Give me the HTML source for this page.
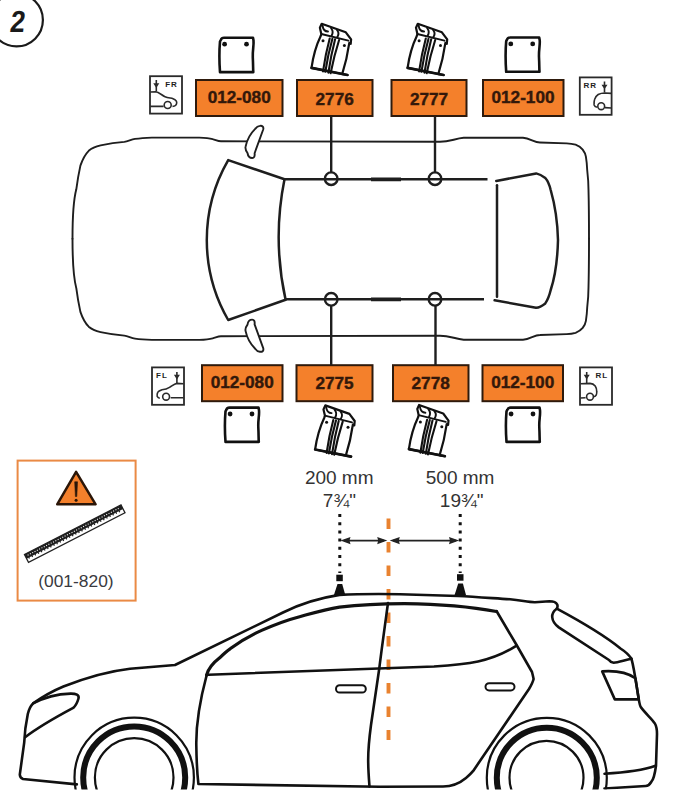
<!DOCTYPE html>
<html><head><meta charset="utf-8">
<style>
html,body{margin:0;padding:0;background:#fff;width:674px;height:800px;overflow:hidden}
svg{display:block}
text{font-family:"Liberation Sans",sans-serif}
</style></head>
<body>
<svg width="674" height="800" viewBox="0 0 674 800">


<!-- step circle -->
<circle cx="16.5" cy="20" r="26.4" fill="none" stroke="#1a1a1a" stroke-width="2.2"/>
<text transform="translate(9.2,31.7) skewX(-7) scale(0.87,1)" x="0" y="0" font-size="30.6" font-weight="bold" fill="#1a1a1a">2</text>

<!-- pads top -->
<g transform="translate(219,37.5)">
    <path d="M1.8,2.5 C2.3,1 3.5,0.3 5,0.3 L34,0.3 L34.5,3 C35,8 33.5,12 33.8,20 C34.2,28 34,31 34.3,34.6 L1,34.6 C0.3,25 0.3,12 1,4 Z" fill="#fff" stroke="#111" stroke-width="2.6" stroke-linejoin="round"/>
    <circle cx="5.6" cy="6.7" r="2.4" fill="#111"/>
    <circle cx="27.5" cy="6.7" r="2.4" fill="#111"/>
</g>
<g transform="translate(505.2,37.2)">
    <path d="M1.8,2.5 C2.3,1 3.5,0.3 5,0.3 L34,0.3 L34.5,3 C35,8 33.5,12 33.8,20 C34.2,28 34,31 34.3,34.6 L1,34.6 C0.3,25 0.3,12 1,4 Z" fill="#fff" stroke="#111" stroke-width="2.6" stroke-linejoin="round"/>
    <circle cx="5.6" cy="6.7" r="2.4" fill="#111"/>
    <circle cx="27.5" cy="6.7" r="2.4" fill="#111"/>
</g>
<!-- pads bottom -->
<g transform="translate(224.5,407.3)">
    <path d="M1.8,2.5 C2.3,1 3.5,0.3 5,0.3 L34,0.3 L34.5,3 C35,8 33.5,12 33.8,20 C34.2,28 34,31 34.3,34.6 L1,34.6 C0.3,25 0.3,12 1,4 Z" fill="#fff" stroke="#111" stroke-width="2.6" stroke-linejoin="round"/>
    <circle cx="5.6" cy="6.7" r="2.4" fill="#111"/>
    <circle cx="27.5" cy="6.7" r="2.4" fill="#111"/>
</g>
<g transform="translate(505.5,407.3)">
    <path d="M1.8,2.5 C2.3,1 3.5,0.3 5,0.3 L34,0.3 L34.5,3 C35,8 33.5,12 33.8,20 C34.2,28 34,31 34.3,34.6 L1,34.6 C0.3,25 0.3,12 1,4 Z" fill="#fff" stroke="#111" stroke-width="2.6" stroke-linejoin="round"/>
    <circle cx="5.6" cy="6.7" r="2.4" fill="#111"/>
    <circle cx="27.5" cy="6.7" r="2.4" fill="#111"/>
</g>

<!-- clips -->
<g transform="translate(300,15)" stroke="#111" stroke-linejoin="round" stroke-linecap="round" fill="none">
    <path d="M21.7,8.8 L45.8,17.3 L51.1,24.4 L50.7,28.8 L49.3,27.9 Q47,44 42.2,59.1 L47.5,60 L11.5,52.9 Q14,35 20.8,20.8 L21.3,19 L19.9,12.8 Z" fill="#fff" stroke-width="2.2"/>
    <path d="M21.3,19 L48.4,25.7" stroke-width="1.9"/>
    <path d="M22.5,10.5 C23,14 25,16.5 28,16.5 M31,13 C33,15.5 33,18.5 31.5,21 M37,15 C39,17.5 38.5,20.5 37,22.5" stroke-width="1.9"/>
    <path d="M29.7,23.5 Q25.5,39 23,56.4 M32.4,23.8 Q28,39.5 25.3,56.8 M35.1,24.3 Q31,40 28.4,57.6 M39.1,25 Q34,41 30.6,58.2" stroke-width="2.1"/>
    <path d="M11.5,52.9 L47.5,60" stroke-width="2.6"/>
    <circle cx="23" cy="25.7" r="1.5" fill="#111" stroke="none"/>
    <circle cx="44.4" cy="30.6" r="1.5" fill="#111" stroke="none"/>
</g>
<g transform="translate(396.1,15)" stroke="#111" stroke-linejoin="round" stroke-linecap="round" fill="none">
    <path d="M21.7,8.8 L45.8,17.3 L51.1,24.4 L50.7,28.8 L49.3,27.9 Q47,44 42.2,59.1 L47.5,60 L11.5,52.9 Q14,35 20.8,20.8 L21.3,19 L19.9,12.8 Z" fill="#fff" stroke-width="2.2"/>
    <path d="M21.3,19 L48.4,25.7" stroke-width="1.9"/>
    <path d="M22.5,10.5 C23,14 25,16.5 28,16.5 M31,13 C33,15.5 33,18.5 31.5,21 M37,15 C39,17.5 38.5,20.5 37,22.5" stroke-width="1.9"/>
    <path d="M29.7,23.5 Q25.5,39 23,56.4 M32.4,23.8 Q28,39.5 25.3,56.8 M35.1,24.3 Q31,40 28.4,57.6 M39.1,25 Q34,41 30.6,58.2" stroke-width="2.1"/>
    <path d="M11.5,52.9 L47.5,60" stroke-width="2.6"/>
    <circle cx="23" cy="25.7" r="1.5" fill="#111" stroke="none"/>
    <circle cx="44.4" cy="30.6" r="1.5" fill="#111" stroke="none"/>
</g>
<g transform="translate(303.6,396.6)" stroke="#111" stroke-linejoin="round" stroke-linecap="round" fill="none">
    <path d="M21.7,8.8 L45.8,17.3 L51.1,24.4 L50.7,28.8 L49.3,27.9 Q47,44 42.2,59.1 L47.5,60 L11.5,52.9 Q14,35 20.8,20.8 L21.3,19 L19.9,12.8 Z" fill="#fff" stroke-width="2.2"/>
    <path d="M21.3,19 L48.4,25.7" stroke-width="1.9"/>
    <path d="M22.5,10.5 C23,14 25,16.5 28,16.5 M31,13 C33,15.5 33,18.5 31.5,21 M37,15 C39,17.5 38.5,20.5 37,22.5" stroke-width="1.9"/>
    <path d="M29.7,23.5 Q25.5,39 23,56.4 M32.4,23.8 Q28,39.5 25.3,56.8 M35.1,24.3 Q31,40 28.4,57.6 M39.1,25 Q34,41 30.6,58.2" stroke-width="2.1"/>
    <path d="M11.5,52.9 L47.5,60" stroke-width="2.6"/>
    <circle cx="23" cy="25.7" r="1.5" fill="#111" stroke="none"/>
    <circle cx="44.4" cy="30.6" r="1.5" fill="#111" stroke="none"/>
</g>
<g transform="translate(397.4,396.2)" stroke="#111" stroke-linejoin="round" stroke-linecap="round" fill="none">
    <path d="M21.7,8.8 L45.8,17.3 L51.1,24.4 L50.7,28.8 L49.3,27.9 Q47,44 42.2,59.1 L47.5,60 L11.5,52.9 Q14,35 20.8,20.8 L21.3,19 L19.9,12.8 Z" fill="#fff" stroke-width="2.2"/>
    <path d="M21.3,19 L48.4,25.7" stroke-width="1.9"/>
    <path d="M22.5,10.5 C23,14 25,16.5 28,16.5 M31,13 C33,15.5 33,18.5 31.5,21 M37,15 C39,17.5 38.5,20.5 37,22.5" stroke-width="1.9"/>
    <path d="M29.7,23.5 Q25.5,39 23,56.4 M32.4,23.8 Q28,39.5 25.3,56.8 M35.1,24.3 Q31,40 28.4,57.6 M39.1,25 Q34,41 30.6,58.2" stroke-width="2.1"/>
    <path d="M11.5,52.9 L47.5,60" stroke-width="2.6"/>
    <circle cx="23" cy="25.7" r="1.5" fill="#111" stroke="none"/>
    <circle cx="44.4" cy="30.6" r="1.5" fill="#111" stroke="none"/>
</g>

<!-- orange boxes -->
<g fill="#f4802b" stroke="#2e1a0c" stroke-width="2">
  <rect x="196" y="80" width="86.5" height="36"/>
  <rect x="297" y="80" width="75.5" height="36"/>
  <rect x="391.5" y="80" width="75" height="36"/>
  <rect x="483" y="80" width="80.5" height="36"/>
  <rect x="202" y="365.2" width="80.5" height="36"/>
  <rect x="296.5" y="365.2" width="76" height="36"/>
  <rect x="393" y="365.2" width="75.5" height="36"/>
  <rect x="482.5" y="365.2" width="80.5" height="36"/>
</g>
<g font-size="17.2" font-weight="bold" fill="#33180a" stroke="#33180a" stroke-width="0.4" text-anchor="middle">
  <text x="239.2" y="103.4">012-080</text>
  <text x="334.7" y="104.5">2776</text>
  <text x="429" y="104.5">2777</text>
  <text x="523" y="103.2">012-100</text>
  <text x="242.2" y="388.2">012-080</text>
  <text x="334.5" y="388.5">2775</text>
  <text x="430.7" y="388.5">2778</text>
  <text x="522.7" y="388.2">012-100</text>
</g>

<!-- position icons -->
<g fill="#fff" stroke="#2a2a2a" stroke-width="1.8">
  <rect x="150" y="76.2" width="32" height="37.4"/>
  <rect x="579.8" y="77.4" width="31.8" height="37.4"/>
  <rect x="152" y="367.4" width="32" height="37.4"/>
  <rect x="580" y="367.4" width="32" height="37.4"/>
</g>
<g fill="none" stroke="#2a2a2a" stroke-width="1.6" stroke-linejoin="round">
  <!-- FR -->
  <path d="M150.3,92 L155.7,91.7 C159,92 162,95.5 165,96.7 C168,98 171,98 173,98.7 C176,100 177,101 176.7,103 C176.5,105 175.5,106.2 172.5,106.4 M150.3,106.4 L163.6,106.4"/>
  <circle cx="167.7" cy="105" r="3.5"/>
  <path d="M156.3,80 L156.3,91.5"/>
  <!-- RR -->
  <path d="M611.2,93.4 L604.9,93 C602,93 600,93.5 598.2,94.5 C596,96 594.8,98 594.5,99.7 C594,101.5 594,103 594.1,104.9 C594.5,106 595.5,107 597.4,107.3 M604.9,107.6 L611.2,108"/>
  <circle cx="601.2" cy="106.2" r="3.4"/>
  <path d="M604.5,81.5 L604.5,92.5"/>
  <!-- FL -->
  <path d="M183.6,383.7 L176.9,383.4 C174,384 172,386 169.5,387.4 C167,389 164.5,389.5 162,389.7 C159.5,390.5 158,391.5 157.6,392.6 C157,394 157,395.5 157.2,396.4 C157.8,397.5 158.5,398 159.8,398.2 M170.6,397.8 L183.6,397.8"/>
  <circle cx="166.1" cy="396.7" r="3.4"/>
  <path d="M176.9,372 L176.9,383"/>
  <!-- RL -->
  <path d="M580.4,383.7 L590,383.4 C592,383.5 594,384.5 595.2,386 C596.2,387.5 596.7,389.5 596.7,391.2 C596.9,393 596.8,394 596.3,394.9 C595.8,396 595,396.5 593.7,396.7 M585.6,397.8 L580.4,398"/>
  <circle cx="590" cy="396.7" r="3.4"/>
  <path d="M586.7,372 L586.7,383"/>
</g>
<g fill="#2a2a2a">
  <path d="M153.3,83.3 L159.3,83.3 L156.3,88 Z"/>
  <path d="M601.5,84.8 L607.5,84.8 L604.5,89.3 Z"/>
  <path d="M173.9,374.8 L179.9,374.8 L176.9,379.5 Z"/>
  <path d="M583.7,374.8 L589.7,374.8 L586.7,379.5 Z"/>
</g>
<g font-size="8" font-weight="bold" fill="#1e1e1e" letter-spacing="1">
  <text x="165.2" y="86.5">FR</text>
  <text x="583.5" y="87.8">RR</text>
  <text x="156" y="377.8">FL</text>
  <text x="595.5" y="377.8">RL</text>
</g>

<!-- ===== TOP VIEW CAR ===== -->
<g fill="none" stroke="#1e1e1e" stroke-width="1.9" stroke-linecap="round" stroke-linejoin="round">
  <path d="M72.5,238.75 C72.5,215 74,198 76.3,189.3 C77.5,180 79,172 80.4,165.6 C83,158 85.5,154 88.7,150.8 C92,148 96,146.5 100.6,145.4 C108,143.8 116,142.5 124.3,141.9 C128,141.5 131,139.5 135,138.9 C138,138.5 142,138 151.9,137.6 L199.3,137.6 C205,137.7 209,138 212.7,139.1 C216,140 218,141.3 221,141.3 L440,141.8 C450,141.8 455,138.5 463.7,137.8 L523,137.8 C530,138 534,142.5 540,142.5 L566.7,143.4 C571,143.6 573,144 575.6,144.7 C579,146 581,147.5 582.7,149.6 C584.5,152 585.5,154 585.9,156.7 C586.6,161 587,165 587.2,170 C588,177 588.5,183 588.5,190 C589,210 589,225 589,238.75"/>
  <path transform="translate(0,477.5) scale(1,-1)" d="M72.5,238.75 C72.5,215 74,198 76.3,189.3 C77.5,180 79,172 80.4,165.6 C83,158 85.5,154 88.7,150.8 C92,148 96,146.5 100.6,145.4 C108,143.8 116,142.5 124.3,141.9 C128,141.5 131,139.5 135,138.9 C138,138.5 142,138 151.9,137.6 L199.3,137.6 C205,137.7 209,138 212.7,139.1 C216,140 218,141.3 221,141.3 L440,141.8 C450,141.8 455,138.5 463.7,137.8 L523,137.8 C530,138 534,142.5 540,142.5 L566.7,143.4 C571,143.6 573,144 575.6,144.7 C579,146 581,147.5 582.7,149.6 C584.5,152 585.5,154 585.9,156.7 C586.6,161 587,165 587.2,170 C588,177 588.5,183 588.5,190 C589,210 589,225 589,238.75"/>
  <path fill="#fff" d="M259.9,125.9 C262,125.5 264,126.5 263.2,129.5 L254.6,153.2 C255,156.5 254,158 252.2,158 C249.5,158 248,156.5 247.5,153 C246,151 245,149 245.6,146.5 C247,140 250,134 255.2,128.9 C256.5,127 258,126 259.9,125.9 Z"/>
  <path transform="translate(0,477.6) scale(1,-1)" fill="#fff" d="M259.9,125.9 C262,125.5 264,126.5 263.2,129.5 L254.6,153.2 C255,156.5 254,158 252.2,158 C249.5,158 248,156.5 247.5,153 C246,151 245,149 245.6,146.5 C247,140 250,134 255.2,128.9 C256.5,127 258,126 259.9,125.9 Z"/>
</g>
<g fill="none" stroke="#1e1e1e" stroke-width="2.5" stroke-linecap="round" stroke-linejoin="round">
  <!-- windshield -->
  <path d="M284.5,179.3 L228.2,160.1 A160,160 0 0 0 228.2,320 L285.6,299.8 A291,291 0 0 1 284.5,179.3 Z"/>
  <!-- rear window -->
  <path d="M496.3,181 L536.2,173.4 C539,174 542,175.5 545.3,178 C548,181 549.5,185 550.7,190 C555,205 557.5,220 558,240 C557.5,260 555,277 550.7,290 C549.5,295 548,299.5 545.3,303.4 C542,306 539,307.5 536,307.8 L494.6,300.3"/>
  <path d="M497,185.3 L497,296.7"/>
</g>
<g fill="none" stroke="#1e1e1e" stroke-width="2.4">
  <path d="M283.7,179.3 L487.5,179.3"/>
  <path d="M285.2,299.3 L484,299.3"/>
  <circle cx="331.2" cy="178.7" r="6.3"/>
  <circle cx="435" cy="178.7" r="6.3"/>
  <circle cx="331.2" cy="299.3" r="6.3"/>
  <circle cx="435" cy="299.3" r="6.3"/>
  <path d="M331.2,116.5 L331.2,172.3 M435,116.5 L435,172.3 M331.2,305.6 L331.2,365 M435.5,305.6 L435.5,365"/>
</g>
<g stroke="#1e1e1e" stroke-width="3.8">
  <path d="M371,179.3 L401,179.3 M371,299.3 L401,299.3"/>
</g>

<!-- ===== WARNING BOX ===== -->
<rect x="17.6" y="460.6" width="118" height="140" fill="none" stroke="#ea8a45" stroke-width="2"/>
<path d="M76.1,471.8 L95.6,504.3 L57.2,504.3 Z" fill="#f4802b" stroke="#2b1608" stroke-width="2.5" stroke-linejoin="round"/>
<path d="M74.7,481.8 L77.5,481.8 L76.8,496.5 L75.4,496.5 Z" fill="#2b1608" stroke="#2b1608" stroke-width="0.6" stroke-linejoin="round"/>
<circle cx="76.1" cy="500.2" r="1.5" fill="#2b1608"/>
<g transform="translate(26.5,558.5) rotate(-27.2)">
  <rect x="0" y="-4.4" width="108.5" height="8.8" fill="#fff" stroke="#222" stroke-width="1.3"/>
  <rect x="0" y="-4.4" width="108.5" height="4.6" fill="#1e1e1e"/>
  <path d="M2.5,-2.4 L106.5,-2.4" stroke="#fff" stroke-width="1.1" stroke-dasharray="1,1.6"/>
  <path d="M2,0.6 L106.5,0.6" stroke="#1e1e1e" stroke-width="1.6" stroke-dasharray="1.2,2.3"/>
</g>
<text x="75.9" y="587" font-size="17.4" fill="#3a3a40" text-anchor="middle">(001-820)</text>

<!-- ===== MEASUREMENTS ===== -->
<g font-size="19" fill="#333" text-anchor="middle">
  <text x="339.2" y="483.6">200 mm</text>
  <text x="339.4" y="507.2">7¾"</text>
  <text x="460.1" y="483.6">500 mm</text>
  <text x="461.7" y="507.2">19¾"</text>
</g>
<g stroke="#111" stroke-width="3" stroke-dasharray="3,5.2">
  <path d="M339.8,514 L339.8,573"/>
  <path d="M460.2,514 L460.2,573"/>
</g>
<g stroke="#222" stroke-width="1.8">
  <path d="M344,540.6 L384,540.6 M393,540.6 L456,540.6"/>
</g>
<g fill="#222">
  <path d="M340.4,540.6 L350.5,536.9 L349.5,540.6 L350.5,544.3 Z"/>
  <path d="M387.3,540.6 L377.2,536.9 L378.2,540.6 L377.2,544.3 Z"/>
  <path d="M389.7,540.6 L399.8,536.9 L398.8,540.6 L399.8,544.3 Z"/>
  <path d="M459.2,540.6 L449,536.9 L450,540.6 L449,544.3 Z"/>
</g>
<!-- rack feet -->
<g fill="#111">
  <rect x="336.3" y="574.7" width="6.5" height="6.5"/>
  <path d="M337.5,584 L342.2,584 L345.3,595 L333.9,595 Z"/>
  <rect x="457" y="574.2" width="6.5" height="6.5"/>
  <path d="M458.2,583.5 L462.9,583.5 L466,595 L454.6,595 Z"/>
</g>

<!-- orange centre line -->
<path d="M388.5,518.5 L388.5,740" stroke="#e9822f" stroke-width="3.9" stroke-dasharray="10.5,13"/>
<!-- ===== SIDE VIEW CAR ===== -->
<g fill="none" stroke="#111" stroke-width="2.6" stroke-linecap="round" stroke-linejoin="round">
  <!-- outer body -->
  <path d="M76.8,784.4 L23,779 C20.5,778 19.8,776 19.8,774.6 L24.2,742.6 C24.5,735 25.5,725 27.8,714 C29,709 31,705.5 33.1,703.4 C45,695 55,690 63.4,686.5 C90,676 110,671 130,668.7 L175,665 L283,612.5 C298,605 316,598.5 339.5,594.9 C360,593.8 380,593.9 400,594.2 L458,596 C475,596.8 490,598 510,599.3 C522,600.3 528,602.3 535,602.2 L549.4,601.3 C553,601.3 556,602 557.2,604.5 C557.8,606 557.5,607.5 556.8,608.7"/>
  <!-- spoiler -->
  <path d="M556.8,608.7 C576,619 600,632 620.5,648.5 C626,652 629,655 631.5,658.8 C625,660 618,662.5 613.7,662.7 C611,662.5 610,661.5 609,660 L558.8,627.4 C555,624.5 552.5,621 552.2,617 C552,613.5 553.5,611 556.8,608.7"/>
  <!-- rear -->
  <path d="M631.5,658.8 C635,672 637,690 638.8,699.4 C639.5,704 640,706 641,707.4 C646,714 652,719 654.8,723.4 C657,727 657,730 657,734 L656,765.7 C655,773 653,780 651.4,781.7 C650,784 648,786 645.7,786 L604.5,788.5"/>
  <path d="M604.5,773.7 C625,772.5 645,769.5 655.5,765.7"/>
  <!-- taillight -->
  <path d="M602.2,671.4 C615,670.5 628,673 635.4,678.2 L638.8,699.4 L614.8,699.4 Z"/>
  <!-- headlight -->
  <path d="M33.1,703.4 C45,697 58,694 70.5,693.6 C76,693.5 79.5,695 78.5,698.5 C77.5,702 76,705.5 73.2,707.9 C58,716 40,726 25.1,737.2"/>
  <!-- front door line -->
  <path d="M206.7,675 C200,700 196,725 196.3,745 C196.5,760 197,772 198.4,784 L380,786.8 L443,786.5 C452,786.5 460,783 466,778 C469,775.5 471.5,773 473.2,770.9 L529,689 C532,684 533,681.5 533.6,679 C533,676 532.5,674 532,672 L516,644 L496.5,611"/>
  <!-- window top (thick) -->
  <path d="M206.6,675 C208.5,668.5 213,663 219.4,658.1 C222.5,655 226,651.5 230.1,648.8 C240,641.5 250,635.5 262.2,630.1 C275,624.5 287,620 299.6,616.7 C315,612.5 325,609.5 339.5,607.1 C360,604.8 380,603.8 404.5,603.6 C440,604 470,606.5 496.5,611.5" stroke-width="3.2"/>
  <!-- belt line -->
  <path d="M208.5,674.7 L434,666.5 C455,665 468,663.5 478,661.5 C492,658.5 505,653 516.6,645.7"/>
  <!-- B pillar -->
  <path d="M388,603 C385,625 381.5,650 379.2,669 C377,685 374,705 371,725 C369,740 368,752 368.2,762 C368.3,772 369,780 369.5,786.5"/>
</g>
<g fill="none" stroke="#111">
  <circle cx="134.2" cy="777.4" r="59.7" stroke-width="2.2"/>
  <circle cx="134.2" cy="777.4" r="51" stroke-width="6"/>
  <circle cx="134.2" cy="777.4" r="39.3" stroke-width="2.2"/>
  <circle cx="546.8" cy="777.8" r="60" stroke-width="2.2"/>
  <circle cx="546.8" cy="777.8" r="50" stroke-width="6"/>
  <circle cx="546.5" cy="777.8" r="37" stroke-width="2.2"/>
</g>
<!-- door handles -->
<g fill="#fff" stroke="#111" stroke-width="2">
  <rect x="336" y="685.2" width="29.8" height="7.4" rx="3.7"/>
  <rect x="485.5" y="683.2" width="29" height="7.2" rx="3.6"/>
</g>
<!-- white mask at bottom -->
<rect x="0" y="789.5" width="674" height="11" fill="#fff"/>
</svg>
</body></html>
